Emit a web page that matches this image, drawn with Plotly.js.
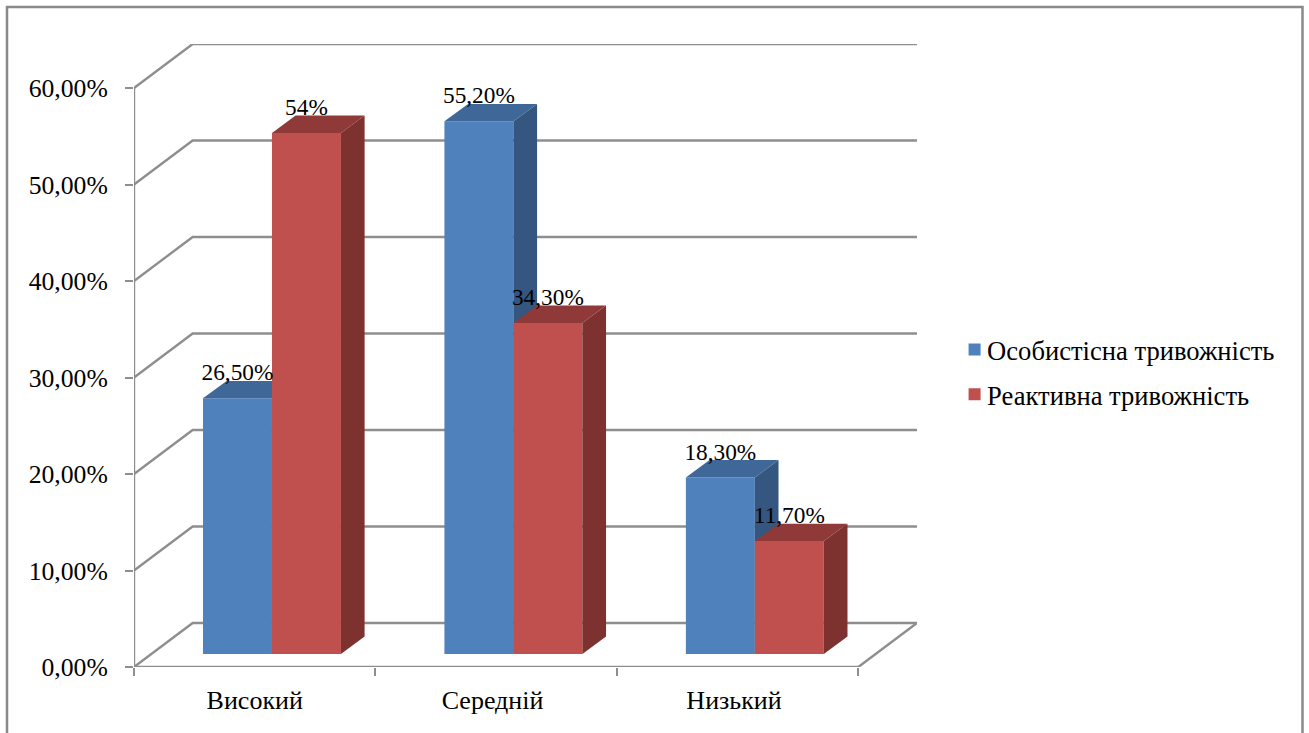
<!DOCTYPE html>
<html>
<head>
<meta charset="utf-8">
<script src="https://cdn.plot.ly/plotly-3.0.1.min.js"></script>
<style>html,body{margin:0;padding:0;background:#fff;overflow:hidden}</style>
</head>
<body>
<div id="chart" style="width:1309px;height:733px"></div>
<script>
// Рівні тривожності
const categories = ['Високий', 'Середній', 'Низький'];
const categoryIndex = [0, 1, 2];
const categoryLabelPos = [0.5, 1.485, 2.485];
const personalName = 'Особистісна тривожність';
const reactiveName = 'Реактивна тривожність';
const personal = [26.5, 55.2, 18.3];
const reactive = [54, 34.3, 11.7];
const personalLabels = ['26,50%', '55,20%', '18,30%'];
const reactiveLabels = ['54%', '34,30%', '11,70%'];
const gridValues = [0, 10, 20, 30, 40, 50, 60];
const gridLabels = ['0,00%', '10,00%', '20,00%', '30,00%', '40,00%', '50,00%', '60,00%'];

// Pseudo-3D box geometry, in axis units
const depthX = 0.243, depthY = 4.56;     // wall offset from the front plane
const barDepthX = 0.098, barDepthY = 1.8; // bar depth
const barBase = 1.35, barWidth = 0.2857;
const personalOffset = 0.2857, reactiveOffset = personalOffset + barWidth;
const xMax = 3 + depthX, yMax = 60 + depthY;
const labelLift = 2.45;

const FONT = '"Liberation Serif", "Times New Roman", serif';
const GRID = '#8e8e8e';

function polygons(offset, values, kind) {
  const xs = [], ys = [];
  values.forEach((v, i) => {
    const x0 = categoryIndex[i] + offset, x1 = x0 + barWidth, top = barBase + v;
    if (kind === 'side') {
      xs.push(x1, x1 + barDepthX, x1 + barDepthX, x1, x1, null);
      ys.push(top, top + barDepthY, barBase + barDepthY, barBase, top, null);
    } else {
      xs.push(x0, x0 + barDepthX, x1 + barDepthX, x1, x0, null);
      ys.push(top, top + barDepthY, top + barDepthY, top, top, null);
    }
  });
  return {x: xs, y: ys};
}

function face(offset, values, kind, color, axes) {
  return Object.assign(polygons(offset, values, kind), {
    type: 'scatter', mode: 'lines', fill: 'toself', fillcolor: color,
    line: {width: 0, color: color}, showlegend: false, hoverinfo: 'skip',
    xaxis: axes[0], yaxis: axes[1], cliponaxis: false
  });
}

function wireLine(x, y) {
  return {type: 'scatter', mode: 'lines', x, y, line: {color: GRID, width: 2.4},
          showlegend: false, hoverinfo: 'skip', cliponaxis: false};
}

const walls = gridValues.map(v => wireLine([0, depthX, xMax], [v, v + depthY, v + depthY]));
walls.push(wireLine([0, 0], [0, 60]));
walls.push(wireLine([0, 3, xMax], [0, 0, depthY]));

const bars = (name, values, offset, color, axes) => ({
  type: 'bar', name, legendgroup: name, x: categoryIndex, y: values,
  base: values.map(() => barBase), offset, width: barWidth,
  marker: {color, line: {width: 0}}, xaxis: axes[0], yaxis: axes[1]
});

const labelsTrace = {
  type: 'scatter', mode: 'text', xaxis: 'x3', yaxis: 'y3', cliponaxis: false,
  x: categoryIndex.map(c => c + personalOffset + barWidth / 2)
    .concat(categoryIndex.map(c => c + reactiveOffset + barWidth / 2)),
  y: personal.concat(reactive).map(v => barBase + v + labelLift),
  text: personalLabels.concat(reactiveLabels),
  textposition: 'middle center',
  textfont: {family: FONT, size: 23.3, color: '#000'},
  showlegend: false, hoverinfo: 'skip'
};

const data = [
  ...walls,
  bars(personalName, personal, personalOffset, '#4f81bd', ['x2', 'y2']),
  face(personalOffset, personal, 'side', '#35567f', ['x2', 'y2']),
  face(personalOffset, personal, 'top', '#3f6797', ['x2', 'y2']),
  bars(reactiveName, reactive, reactiveOffset, '#c0504d', ['x3', 'y3']),
  face(reactiveOffset, reactive, 'side', '#7d3230', ['x3', 'y3']),
  face(reactiveOffset, reactive, 'top', '#8f3a38', ['x3', 'y3']),
  labelsTrace
];

const overlayX = {overlaying: 'x', range: [0, xMax], visible: false, fixedrange: true};
const overlayY = {overlaying: 'y', range: [0, yMax], visible: false, fixedrange: true};

const layout = {
  width: 1309, height: 733,
  margin: {l: 134, r: 392, t: 44, b: 66, pad: 0},
  paper_bgcolor: '#fff', plot_bgcolor: 'rgba(0,0,0,0)',
  font: {family: FONT, color: '#000'},
  barmode: 'overlay',
  xaxis: {
    range: [0, xMax], fixedrange: true, showgrid: false, zeroline: false, showline: false,
    tickmode: 'array', tickvals: categoryLabelPos, ticktext: categories,
    ticks: '', tickfont: {family: FONT, size: 26}, ticklabelstandoff: 15,
    minor: {ticks: 'outside', tickmode: 'array', tickvals: [0, 1, 2, 3], ticklen: 8,
            tickwidth: 2, tickcolor: GRID, showgrid: false}
  },
  yaxis: {
    range: [0, yMax], fixedrange: true, showgrid: false, zeroline: false, showline: false,
    tickmode: 'array', tickvals: gridValues, ticktext: gridLabels,
    ticks: 'outside', ticklen: 8, tickwidth: 2, tickcolor: GRID,
    tickfont: {family: FONT, size: 25.7}, ticklabelstandoff: 12
  },
  xaxis2: overlayX, yaxis2: overlayY,
  xaxis3: Object.assign({}, overlayX), yaxis3: Object.assign({}, overlayY),
  legend: {
    x: 1.048, xanchor: 'left', y: 0.473, yanchor: 'middle',
    font: {family: FONT, size: 26.6}, bgcolor: 'rgba(0,0,0,0)',
    traceorder: 'grouped', tracegroupgap: 7, itemclick: false, itemdoubleclick: false
  },
  shapes: [{
    type: 'rect', xref: 'paper', yref: 'paper',
    x0: (7 - 134) / 783, x1: (1302.5 - 134) / 783,
    y0: -0.2, y1: 1 + 37 / 623,
    line: {color: '#8a8a8a', width: 2.5}, fillcolor: 'rgba(0,0,0,0)', layer: 'below'
  }],
  showlegend: true
};

Plotly.newPlot('chart', data, layout, {displayModeBar: false, staticPlot: true}).then(gd => {
  // Tighten the space between legend swatches and their captions
  gd.querySelectorAll('.legendtext').forEach(t => {
    t.setAttribute('x', parseFloat(t.getAttribute('x')) - 7.5);
  });
});
</script>
</body>
</html>
